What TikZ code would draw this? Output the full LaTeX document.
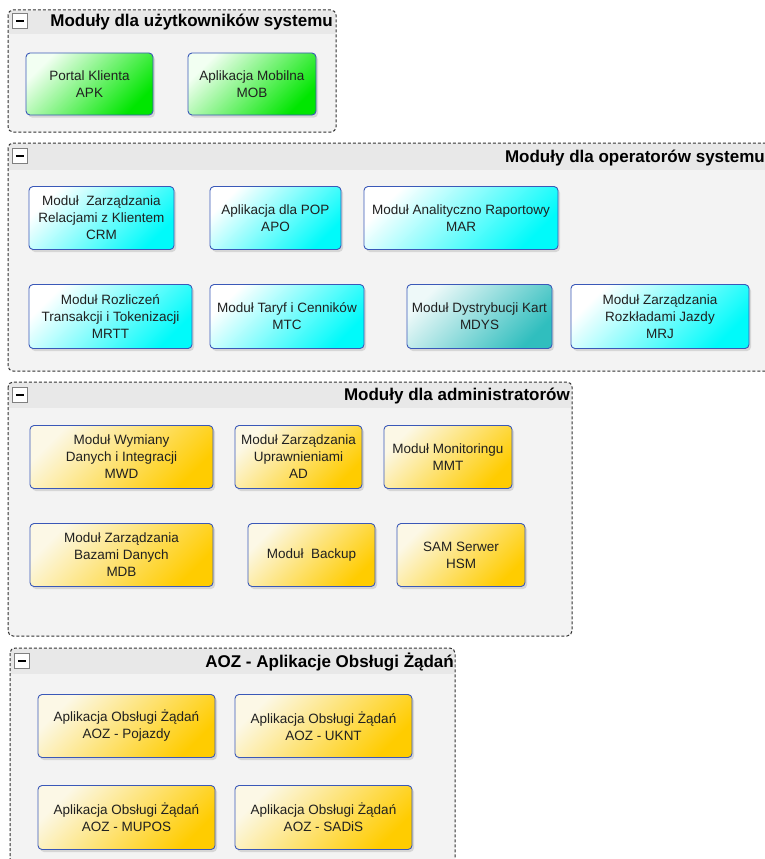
\documentclass[tikz,border=0pt]{standalone}
\usepackage{fontspec}
\setmainfont{Liberation Sans}
\usepackage{xcolor}
\usetikzlibrary{shadows}

\definecolor{boxline}{HTML}{3A58B8}
\definecolor{grnA}{HTML}{F2FFF2}
\definecolor{grnB}{HTML}{00E600}
\definecolor{cynA}{HTML}{FFFFFF}
\definecolor{cynB}{HTML}{00FAFA}
\definecolor{tealA}{HTML}{EEF9F9}
\definecolor{tealB}{HTML}{30BEBE}
\definecolor{ylwA}{HTML}{FCF8E6}
\definecolor{ylwB}{HTML}{FFCC00}
\definecolor{grpbody}{HTML}{F3F3F3}
\definecolor{grphead}{HTML}{E8E8E8}
\definecolor{grpline}{HTML}{303030}
\definecolor{txt}{HTML}{202020}

\begin{document}
\begin{tikzpicture}[
            x = 1pt, y = -1pt, % pixel grid, y grows downwards
            mod/.style = {draw=boxline, line width=0.9pt, rounded corners=4pt,
                          align=center, inner sep=0pt, text=txt,
                          font=\fontsize{13.5}{17}\selectfont,
                          drop shadow={shadow xshift=2pt, shadow yshift=-2.5pt, opacity=0.25}},
            usrbox/.style = {mod, top color=grnA, bottom color=grnB, shading angle=45},
            oprbox/.style = {mod, top color=cynA, bottom color=cynB, shading angle=45},
            admbox/.style = {mod, top color=ylwA, bottom color=ylwB, shading angle=45},
            grpframe/.style = {draw=grpline, line width=1pt, dash pattern=on 3pt off 2pt, rounded corners=5pt},
            grptitle/.style = {anchor=east, inner sep=0pt, font=\bfseries\fontsize{17}{20}\selectfont},
            minus/.style = {draw=gray, fill=white, line width=0.8pt, minimum size=15pt, inner sep=0pt}
        ]
\clip (0,0) rectangle (765,859);

% group frames
\fill[grpbody, rounded corners=5pt] (8,10) rectangle (336,132);
\fill[grphead] (9,11) rectangle (335,34);
\draw[grpframe] (8,10) rectangle (336,132);

\fill[grpbody, rounded corners=5pt] (8,143) rectangle (780,371);
\fill[grphead] (9,144) rectangle (779,170);
\draw[grpframe] (8,143) rectangle (780,371);

\fill[grpbody, rounded corners=5pt] (8,382) rectangle (572,636);
\fill[grphead] (9,383) rectangle (571,408);
\draw[grpframe] (8,382) rectangle (572,636);

\fill[grpbody, rounded corners=5pt] (10,648) rectangle (455,880);
\fill[grphead] (11,649) rectangle (454,674);
\draw[grpframe] (10,648) rectangle (455,880);

% group headers
\node[minus] (m1) at (20,21) {\rule{8pt}{2pt}};
\node[grptitle] (T1) at (333,22) {Moduły dla użytkowników systemu};
\node[minus] (m2) at (20,156) {\rule{8pt}{2pt}};
\node[grptitle] (T2) at (765,158) {Moduły dla operatorów systemu};
\node[minus] (m3) at (20,395) {\rule{8pt}{2pt}};
\node[grptitle] (T3) at (570,396) {Moduły dla administratorów};
\node[minus] (m4) at (22,661) {\rule{8pt}{2pt}};
\node[grptitle] (T4) at (454,662) {AOZ - Aplikacje Obsługi Żądań};

% users
\node[usrbox, minimum width=127pt, minimum height=62pt] (APK) at (89.5,84) {Portal Klienta\\APK};
\node[usrbox, minimum width=128pt, minimum height=62pt] (MOB) at (252,84) {Aplikacja Mobilna\\MOB};

% operators
\node[oprbox, minimum width=145pt, minimum height=63pt] (CRM) at (101.5,218) {Moduł~ Zarządzania\\Relacjami z Klientem\\CRM};
\node[oprbox, minimum width=131pt, minimum height=63pt] (APO) at (275.5,218) {Aplikacja dla POP\\APO};
\node[oprbox, minimum width=194pt, minimum height=63pt] (MAR) at (461,218) {Moduł Analityczno Raportowy\\MAR};
\node[oprbox, minimum width=163pt, minimum height=64pt] (MRTT) at (110.5,316.5) {Moduł Rozliczeń\\Transakcji i Tokenizacji\\MRTT};
\node[oprbox, minimum width=154pt, minimum height=64pt] (MTC) at (287,316.5) {Moduł Taryf i Cenników\\MTC};
\node[mod, top color=tealA, bottom color=tealB, shading angle=45, minimum width=145pt, minimum height=64pt] (MDYS) at (479.5,316.5) {Moduł Dystrybucji Kart\\MDYS};
\node[oprbox, minimum width=178pt, minimum height=64pt] (MRJ) at (660,316.5) {Moduł Zarządzania\\Rozkładami Jazdy\\MRJ};

% administrators
\node[admbox, minimum width=183pt, minimum height=63pt] (MWD) at (121.5,457) {Moduł Wymiany\\Danych i Integracji\\MWD};
\node[admbox, minimum width=127pt, minimum height=63pt] (AD) at (298.5,457) {Moduł Zarządzania\\Uprawnieniami\\AD};
\node[admbox, minimum width=128pt, minimum height=63pt] (MMT) at (448,457) {Moduł Monitoringu\\MMT};
\node[admbox, minimum width=183pt, minimum height=63pt] (MDB) at (121.5,555) {Moduł Zarządzania\\Bazami Danych\\MDB};
\node[admbox, minimum width=127pt, minimum height=63pt] (BCK) at (311.5,555) {Moduł~ Backup};
\node[admbox, minimum width=128pt, minimum height=63pt] (HSM) at (461,555) {SAM Serwer\\HSM};

% AOZ
\node[admbox, minimum width=177pt, minimum height=63pt] (AOZP) at (126.5,726) {Aplikacja Obsługi Żądań\\AOZ - Pojazdy};
\node[admbox, minimum width=177pt, minimum height=63pt] (AOZU) at (323.5,726) {Aplikacja Obsługi Żądań\\AOZ - UKNT};
\node[admbox, minimum width=177pt, minimum height=64pt] (AOZM) at (126.5,817.5) {Aplikacja Obsługi Żądań\\AOZ - MUPOS};
\node[admbox, minimum width=177pt, minimum height=64pt] (AOZS) at (323.5,817.5) {Aplikacja Obsługi Żądań\\AOZ - SADiS};

\end{tikzpicture}
\end{document}
